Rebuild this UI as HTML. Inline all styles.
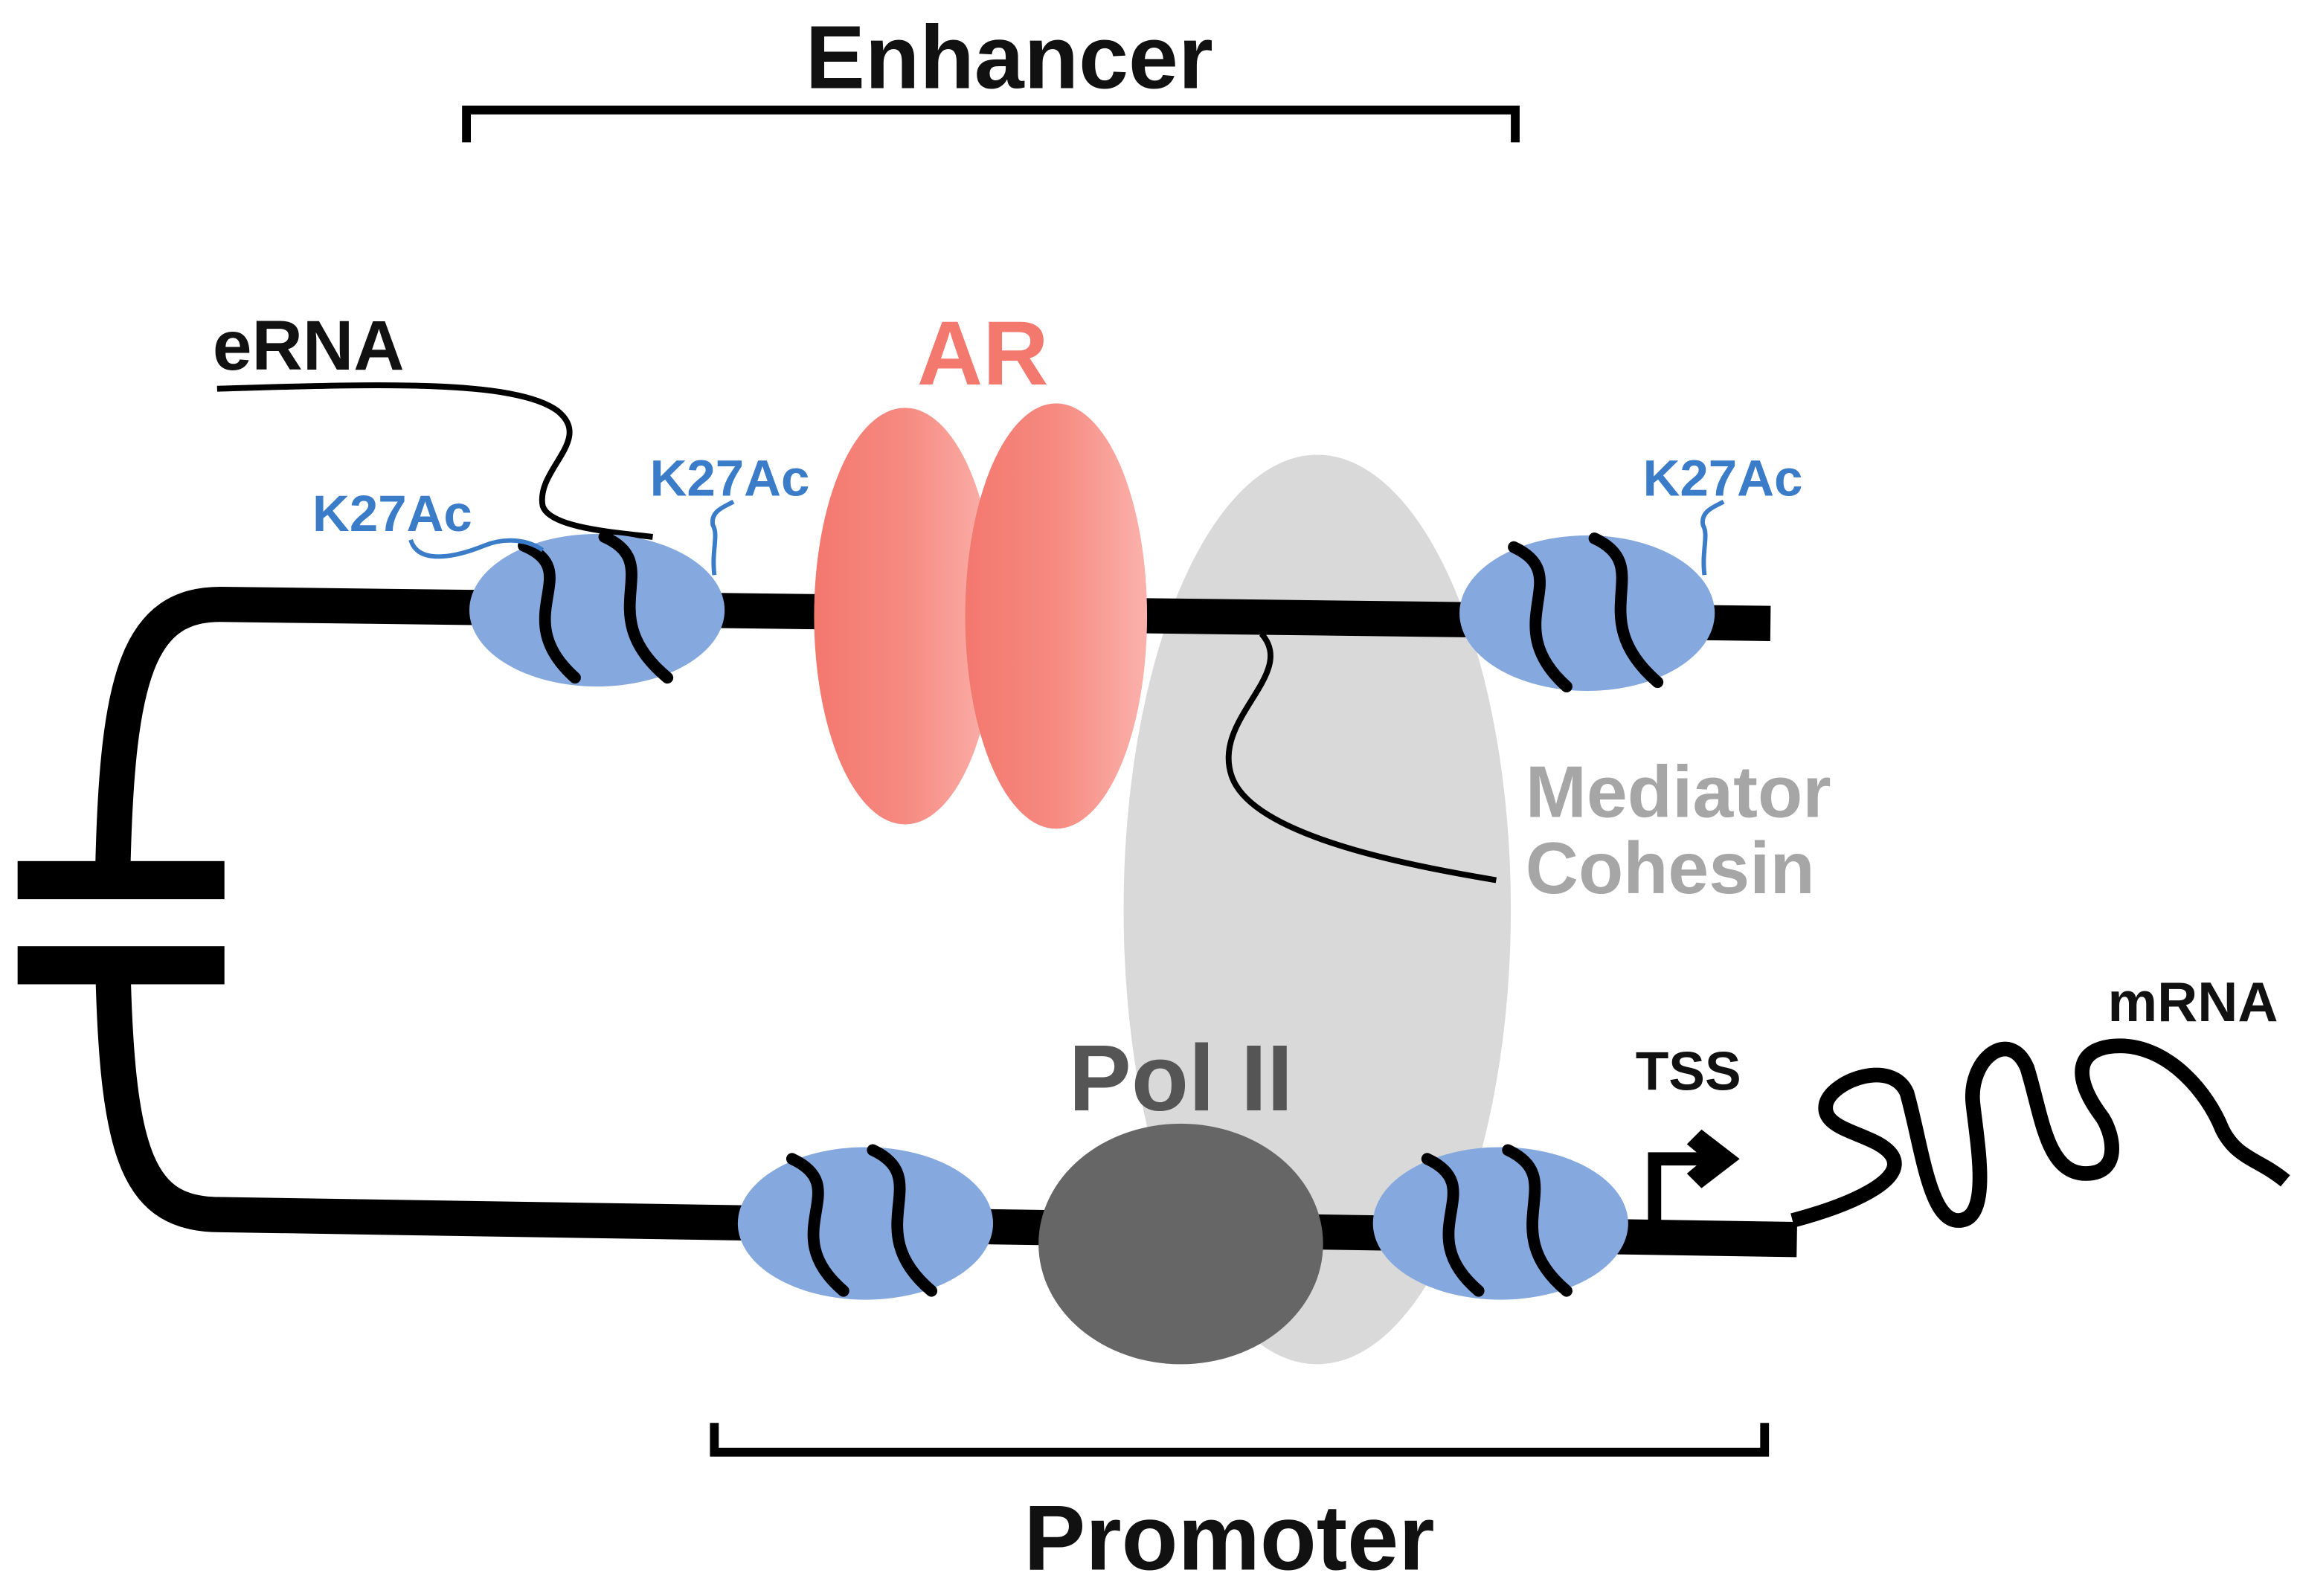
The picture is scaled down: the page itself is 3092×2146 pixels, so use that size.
<!DOCTYPE html>
<html><head><meta charset="utf-8"><style>
html,body{margin:0;padding:0;background:#fff;}
svg{display:block;}
text{font-family:"Liberation Sans",sans-serif;font-weight:bold;}
</style></head><body>
<svg width="3092" height="2146" viewBox="0 0 1568 1088" preserveAspectRatio="none" xmlns="http://www.w3.org/2000/svg">
<defs>
<linearGradient id="ar" x1="0" x2="1" y1="0" y2="0">
<stop offset="0" stop-color="#f3786e"/><stop offset="0.5" stop-color="#f68a81"/><stop offset="1" stop-color="#fab2ab"/>
</linearGradient>
</defs>
<text x="688" y="60" font-size="61" text-anchor="middle" fill="#111">Enhancer</text>
<path d="M318,97 V75 H1033 V97" fill="none" stroke="#000" stroke-width="6"/>
<text x="838" y="1070" font-size="63" text-anchor="middle" fill="#111">Promoter</text>
<path d="M487,970 V990 H1203 V970" fill="none" stroke="#000" stroke-width="6"/>

<ellipse cx="898" cy="620" rx="132" ry="310" fill="#d9d9d9"/>

<path d="M1207,425 L150,412 C95,412 80,460 77,590" fill="none" stroke="#000" stroke-width="24"/>
<path d="M77,660 C80,790 95,828 150,828 L1225,845" fill="none" stroke="#000" stroke-width="24"/>
<rect x="12" y="587" width="141" height="26" fill="#000"/>
<rect x="12" y="645" width="141" height="26" fill="#000"/>

<path d="M148,265 C250,262 350,258 380,280 C405,300 365,320 370,345 C375,360 420,363 445,366" fill="none" stroke="#000" stroke-width="4"/>
<text x="145" y="252" font-size="48" fill="#111">eRNA</text>

<g fill="#85a9de">
<ellipse cx="407" cy="416" rx="87" ry="52"/>
<ellipse cx="1082" cy="418" rx="87" ry="53"/>
<ellipse cx="590" cy="834" rx="87" ry="52"/>
<ellipse cx="1023" cy="834" rx="87" ry="52"/>
</g>
<g fill="none" stroke="#000" stroke-width="8" stroke-linecap="round">
<path d="M357,372 C400,390 345,420 392,462"/><path d="M412,366 C455,385 402,418 455,462"/>
<path d="M1032,373 C1075,393 1020,425 1068,468"/><path d="M1087,367 C1130,387 1078,420 1130,465"/>
<path d="M540,790 C583,810 528,840 575,880"/><path d="M595,784 C638,804 585,838 635,880"/>
<path d="M973,790 C1016,810 961,840 1008,880"/><path d="M1028,784 C1071,804 1018,838 1068,880"/>
</g>

<g fill="none" stroke="#3a7cc8" stroke-width="3">
<path d="M280,368 C285,385 310,380 330,372 C345,366 360,368 370,375"/>
<path d="M487,392 C485,375 490,365 486,358 C484,348 495,345 500,342"/>
<path d="M1162,392 C1160,375 1165,365 1161,358 C1159,348 1170,345 1175,342"/>
</g>
<g font-size="35" fill="#3a7cc8">
<text x="213" y="362">K27Ac</text>
<text x="443" y="338">K27Ac</text>
<text x="1120" y="338">K27Ac</text>
</g>

<ellipse cx="617" cy="420" rx="62" ry="142" fill="url(#ar)"/>
<ellipse cx="720" cy="420" rx="62" ry="145" fill="url(#ar)"/>
<text x="670" y="262" font-size="62" text-anchor="middle" fill="#f3786e">AR</text>

<path d="M860,432 C885,460 825,490 840,530 C855,570 960,590 1020,600" fill="none" stroke="#000" stroke-width="4"/>
<text x="1040" y="557" font-size="50" fill="#a6a6a6">Mediator</text>
<text x="1040" y="609" font-size="50" fill="#a6a6a6">Cohesin</text>

<ellipse cx="805" cy="848" rx="97" ry="82" fill="#666"/>
<text x="805" y="757" font-size="64" text-anchor="middle" fill="#555">Pol II</text>

<path d="M1128,832 V790 H1165" fill="none" stroke="#000" stroke-width="9"/>
<path d="M1160,770 L1186,790 L1160,810 L1150,800 L1162,790 L1150,780 Z" fill="#000"/>
<text x="1151" y="743" font-size="37" text-anchor="middle" fill="#111">TSS</text>

<path d="M1222,832 C1260,822 1300,805 1290,788 C1280,772 1240,772 1245,752 C1250,736 1290,722 1300,745 C1310,780 1315,832 1335,832 C1358,832 1348,780 1345,752 C1342,722 1370,700 1382,728 C1392,760 1395,800 1422,800 C1448,800 1440,770 1432,760 C1410,730 1418,712 1448,713 C1480,715 1505,745 1515,770 C1525,790 1540,790 1558,805" fill="none" stroke="#000" stroke-width="10"/>
<text x="1495" y="696" font-size="38" text-anchor="middle" fill="#111">mRNA</text>
</svg>
</body></html>
